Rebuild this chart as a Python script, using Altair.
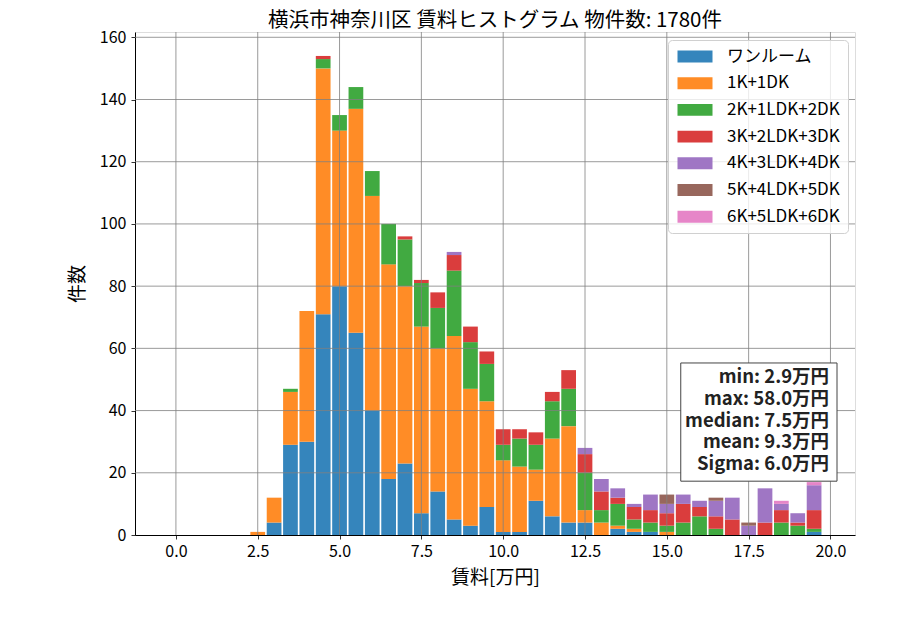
import altair as alt
import pandas as pd

FONT = "Noto Sans CJK JP"

# bin centres (万円), bin width 0.5
bin_centers = [2.5, 3.0, 3.5, 4.0, 4.5, 5.0, 5.5, 6.0, 6.5, 7.0, 7.5, 8.0,
               8.5, 9.0, 9.5, 10.0, 10.5, 11.0, 11.5, 12.0, 12.5, 13.0, 13.5,
               14.0, 14.5, 15.0, 15.5, 16.0, 16.5, 17.0, 17.5, 18.0, 18.5,
               19.0, 19.5]

categories = ["ワンルーム", "1K+1DK", "2K+1LDK+2DK", "3K+2LDK+3DK",
              "4K+3LDK+4DK", "5K+4LDK+5DK", "6K+5LDK+6DK"]
colors = ["#3585bc", "#ff8c26", "#41aa41", "#da3d3d", "#9f76c4", "#98675d", "#e685c8"]

one_room = [0, 4, 29, 30, 71, 80, 65, 40, 18, 23, 7, 14, 5, 3, 9, 1, 1, 11, 6, 4,
            4, 0, 2, 1, 1, 0, 0, 0, 0, 0, 0, 0, 0, 0, 1]
k1 = [1, 8, 17, 42, 79, 50, 72, 69, 69, 57, 60, 46, 59, 44, 34, 23, 21, 10, 25, 31,
      4, 4, 1, 1, 0, 1, 0, 0, 0, 0, 0, 0, 0, 0, 0]
k2 = [0, 0, 1, 0, 3, 5, 7, 8, 13, 15, 14, 13, 21, 15, 12, 5, 9, 8, 12, 12,
      12, 4, 7, 3, 3, 2, 4, 6, 2, 0, 0, 0, 4, 3, 1]
k3 = [0, 0, 0, 0, 1, 0, 0, 0, 0, 1, 1, 5, 5, 5, 4, 5, 3, 4, 3, 6,
      6, 6, 2, 4, 4, 4, 6, 3, 4, 5, 0, 4, 4, 1, 6]
k4 = [0, 0, 0, 0, 0, 0, 0, 0, 0, 0, 0, 0, 1, 0, 0, 0, 0, 0, 0, 0,
      2, 4, 3, 1, 5, 3, 3, 2, 5, 7, 3, 11, 2, 3, 8]
k5 = [0, 0, 0, 0, 0, 0, 0, 0, 0, 0, 0, 0, 0, 0, 0, 0, 0, 0, 0, 0,
      0, 0, 0, 0, 0, 3, 0, 0, 1, 0, 1, 0, 0, 0, 0]
k6 = [0, 0, 0, 0, 0, 0, 0, 0, 0, 0, 0, 0, 0, 0, 0, 0, 0, 0, 0, 0,
      0, 0, 0, 0, 0, 0, 0, 0, 0, 0, 0, 0, 1, 0, 1]
series = [one_room, k1, k2, k3, k4, k5, k6]

x_ticks = [0.0, 2.5, 5.0, 7.5, 10.0, 12.5, 15.0, 17.5, 20.0]
y_ticks = [0, 20, 40, 60, 80, 100, 120, 140, 160]

stats_lines = ["min: 2.9万円", "max: 58.0万円", "median: 7.5万円",
               "mean: 9.3万円", "Sigma: 6.0万円"]
title_text = "横浜市神奈川区 賃料ヒストグラム  物件数: 1780件"

rows = []
for oi, (cat, vals) in enumerate(zip(categories, series)):
    for b, v in zip(bin_centers, vals):
        if v > 0:
            rows.append({"bin": b, "category": cat, "n": v, "order": oi})
df = pd.DataFrame(rows)

W, H = 720, 503
HALF = 0.225

x_scale = alt.Scale(domain=[-1.25, 20.75], nice=False, zero=False)
y_scale = alt.Scale(domain=[0, 161.7], nice=False, zero=False)

x_axis = alt.Axis(values=x_ticks, format=".1f", title="賃料[万円]", grid=False,
                  tickSize=4, tickColor="black", tickWidth=0.8,
                  domainColor="black", domainWidth=1, labelPadding=4,
                  labelFontSize=16, titleFontSize=19, titlePadding=9,
                  labelColor="black", titleColor="black",
                  titleFontWeight="normal", labelFont=FONT, titleFont=FONT)
y_axis = alt.Axis(values=y_ticks, title="件数", grid=False,
                  tickSize=4, tickColor="black", tickWidth=0.8,
                  domainColor="black", domainWidth=1, labelPadding=5,
                  labelFontSize=16, titleFontSize=19, titlePadding=12,
                  labelColor="black", titleColor="black",
                  titleFontWeight="normal", labelFont=FONT, titleFont=FONT)

legend = alt.Legend(
    title=None, orient="none", legendX=533, legendY=8,
    fillColor="rgba(255,255,255,0.8)", strokeColor="#d0d0d0", cornerRadius=4,
    padding=8, labelFontSize=17, labelFont=FONT, labelColor="black",
    symbolType="M-2.5,-0.85L2.5,-0.85L2.5,0.85L-2.5,0.85Z", symbolSize=196,
    symbolOffset=10.5, symbolStrokeWidth=0, symbolOpacity=1, labelOffset=23.5,
    rowPadding=8.7, labelLimit=300,
)

bars = alt.Chart(df).transform_window(
    top="sum(n)", groupby=["bin"], sort=[alt.SortField("order")], frame=[None, 0]
).transform_calculate(
    bottom="datum.top - datum.n",
    left=f"datum.bin - {HALF}",
    right=f"datum.bin + {HALF}",
).mark_bar(strokeWidth=0).encode(
    x=alt.X("left:Q", scale=x_scale, axis=x_axis),
    x2="right:Q",
    y=alt.Y("top:Q", scale=y_scale, axis=y_axis),
    y2="bottom:Q",
    color=alt.Color("category:N", scale=alt.Scale(domain=categories, range=colors),
                    legend=legend),
    order=alt.Order("order:Q"),
)

vgrid = alt.Chart(pd.DataFrame({"t": x_ticks})).mark_rule(
    color="#808080", strokeWidth=0.8
).encode(x=alt.X("t:Q", scale=x_scale, axis=x_axis))

hgrid = alt.Chart(pd.DataFrame({"t": y_ticks[1:]})).mark_rule(
    color="#808080", strokeWidth=0.8
).encode(y=alt.Y("t:Q", scale=y_scale, axis=y_axis))

box = alt.Chart(pd.DataFrame({"k": [0]})).mark_rect(
    fill="white", stroke="#444444", strokeWidth=1
).encode(
    x=alt.value(W * 0.758), x2=alt.value(W * 0.975),
    y=alt.value(H * 0.658), y2=alt.value(H * 0.893),
)

stats = alt.Chart(pd.DataFrame({"label": ["\n".join(stats_lines)]})).mark_text(
    align="right", baseline="top", fontSize=18.5, fontWeight="bold", font=FONT,
    lineBreak="\n", lineHeight=21.8, color="#222222"
).encode(
    x=alt.value(W * 0.964), y=alt.value(H * 0.668), text="label:N"
)

chart = alt.layer(bars, vgrid, hgrid, box, stats).properties(
    width=W, height=H,
    title=alt.TitleParams(title_text, fontSize=20.5, font=FONT, fontWeight="normal",
                          anchor="middle", frame="group", offset=0, dy=2,
                          color="black"),
    autosize=alt.AutoSizeParams(type="none"),
    padding={"left": 127, "top": 24, "right": 37, "bottom": 87},
).configure_view(stroke="black", strokeWidth=1).configure(background="white")

chart.save("out.html", embed_options={"renderer": "svg", "actions": False})
